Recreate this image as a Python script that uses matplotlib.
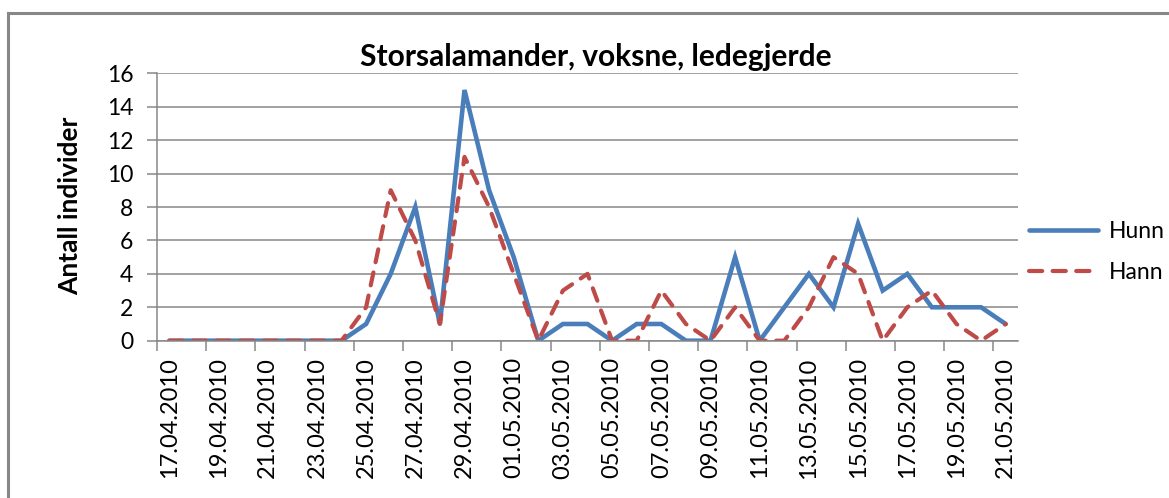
import matplotlib
matplotlib.use('Agg')
import matplotlib.pyplot as plt
from matplotlib.lines import Line2D

# data
dates = ['17.04.2010', '18.04.2010', '19.04.2010', '20.04.2010', '21.04.2010',
         '22.04.2010', '23.04.2010', '24.04.2010', '25.04.2010', '26.04.2010',
         '27.04.2010', '28.04.2010', '29.04.2010', '30.04.2010', '01.05.2010',
         '02.05.2010', '03.05.2010', '04.05.2010', '05.05.2010', '06.05.2010',
         '07.05.2010', '08.05.2010', '09.05.2010', '10.05.2010', '11.05.2010',
         '12.05.2010', '13.05.2010', '14.05.2010', '15.05.2010', '16.05.2010',
         '17.05.2010', '18.05.2010', '19.05.2010', '20.05.2010', '21.05.2010']
hunn = [0, 0, 0, 0, 0, 0, 0, 0, 1, 4, 8, 1, 15, 9, 5, 0, 1, 1, 0, 1,
        1, 0, 0, 5, 0, 2, 4, 2, 7, 3, 4, 2, 2, 2, 1]
hann = [0, 0, 0, 0, 0, 0, 0, 0, 2, 9, 6, 1, 11, 8, 4, 0, 3, 4, 0, 0,
        3, 1, 0, 2, 0, 0, 2, 5, 4, 0, 2, 3, 1, 0, 1]
yticks = [0, 2, 4, 6, 8, 10, 12, 14, 16]

plt.rcParams['font.family'] = ['Lato', 'DejaVu Sans']
plt.rcParams['lines.scale_dashes'] = False

blue = '#4A7EBB'
red = '#BE4B48'
grey = '#878787'

fig = plt.figure(figsize=(11.69, 4.98), dpi=100)
ax = fig.add_axes([157/1169, 1-340.7/498, (1018-157)/1169, (340.7-73.3)/498])

x = list(range(len(dates)))
ax.plot(x, hunn, color=blue, lw=3.3, solid_capstyle='round', solid_joinstyle='miter', label='Hunn')
ax.plot(x, hann, color=red, lw=3.0, dashes=(9.5, 7.5), dash_capstyle='round', label='Hann')

ax.set_xlim(-0.5, len(dates) - 0.5)
ax.set_ylim(0, 16)
ax.set_yticks(yticks)
ax.set_yticklabels([str(v) for v in yticks], fontsize=16.5)
ax.yaxis.grid(True, color=grey, lw=1.1)
ax.set_axisbelow(True)

# tick marks on category boundaries, labels on every second category
ax.set_xticks([i - 0.5 for i in range(0, len(dates), 2)])
ax.set_xticklabels([])
ax.set_xticks(x[::2], minor=True)
ax.set_xticklabels(dates[::2], minor=True, rotation=90, fontsize=17)
ax.tick_params(axis='x', which='minor', length=0, pad=12)
ax.tick_params(axis='both', which='major', length=7, width=1.1, color=grey, direction='out')
ax.tick_params(axis='y', pad=10)

for s in ['top', 'right']:
    ax.spines[s].set_visible(False)
for s in ['left', 'bottom']:
    ax.spines[s].set_color(grey)
    ax.spines[s].set_linewidth(1.1)

# y axis title and chart title
fig.text(70/1169, 1-206/498, 'Antall individer', rotation=90,
         fontsize=19, fontweight='bold', ha='center', va='center')
fig.text(596/1169, 1-57/498, 'Storsalamander, voksne, ledegjerde',
         fontsize=21.5, fontweight='bold', ha='center', va='center')

ax.legend(loc='center left', bbox_to_anchor=(1.0, 0.332), frameon=False,
          fontsize=16.5, handlelength=3.0, handletextpad=0.45, labelspacing=0.85,
          borderaxespad=0.1)

# chart border (top and left visible)
fig.add_artist(Line2D([8/1169, 8/1169], [0, 1-13.5/498], color=grey, lw=2.2,
                      transform=fig.transFigure))
fig.add_artist(Line2D([8/1169, 1], [1-13.5/498, 1-13.5/498], color=grey, lw=2.2,
                      transform=fig.transFigure))

fig.savefig('out.png', dpi=100)
